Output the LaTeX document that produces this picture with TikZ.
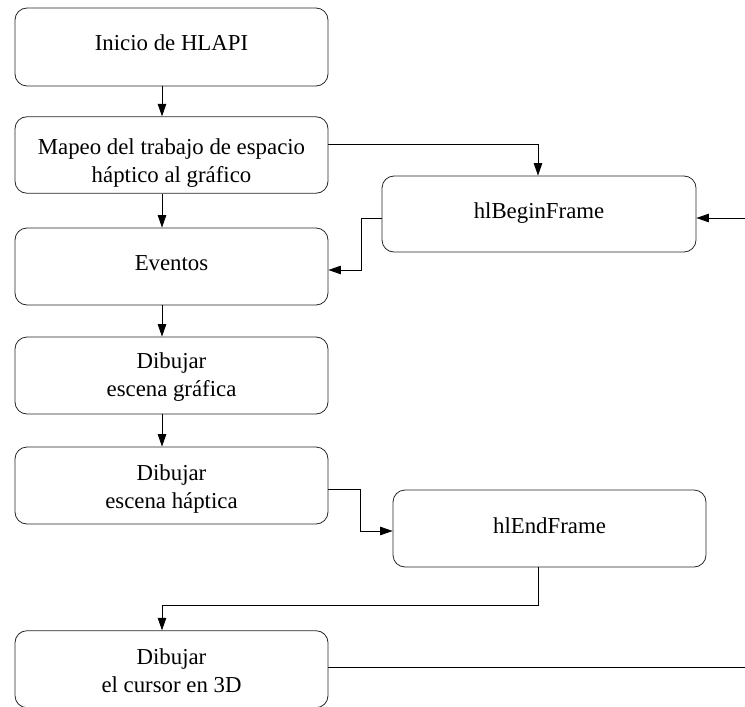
\documentclass[tikz,border=0pt]{standalone}
\usepackage{fontspec}
\setmainfont{Liberation Serif}
\usetikzlibrary{arrows.meta,calc}

\begin{document}
\begin{tikzpicture}[x=1bp,y=-1bp,
  box/.style={draw=black!85, line width=0.8bp, rounded corners=12bp,
    minimum width=313bp, minimum height=77bp, inner sep=0pt,
    align=center, font=\fontsize{22.8bp}{28bp}\selectfont},
  % baseline of the (last) text line sits #1/2 below the box centre
  bl/.style={text height=#1, text depth=0bp},
  flow/.style={draw=black, line width=0.8bp,
    -{Triangle[length=12.5bp,width=8.5bp]}},
  plain/.style={draw=black, line width=0.8bp}]
\useasboundingbox (0,0) rectangle (745,707);

% main column
\node[box, bl=8bp, minimum height=78bp] (b1) at (171.5,47) {Inicio de HLAPI};
\node[box, bl=54bp, minimum height=76.5bp] (b2) at (171.5,155) {Mapeo del trabajo de espacio\\háptico al gráfico};
\node[box, bl=7bp] (b3) at (171.5,266.5) {Eventos};
\node[box, bl=41bp] (b4) at (171.5,375.5) {Dibujar\\escena gráfica};
\node[box, bl=45bp] (b5) at (171.5,485.5) {Dibujar\\escena háptica};
\node[box, bl=47bp] (b6) at (171.5,669.2) {Dibujar\\el cursor en 3D};

% frame calls on the right
\node[box, bl=8bp, minimum width=314bp, minimum height=76bp] (hb) at (539,214) {hlBeginFrame};
\node[box, bl=9bp] (he) at (549.5,528.5) {hlEndFrame};

% helper coordinates
\coordinate (ax) at (162,0);
\coordinate (edgeA) at (745,218);
\coordinate (edgeB) at (745,667);

% vertical flow in the column
\draw[flow] (b1.south -| ax) -- (b2.north -| ax);
\draw[flow] (b2.south -| ax) -- (b3.north -| ax);
\draw[flow] (b3.south -| ax) -- (b4.north -| ax);
\draw[flow] (b4.south -| ax) -- (b5.north -| ax);

% begin frame loop
\draw[flow] (b2.east |- 0,144) -| (538,0 |- hb.north);
\draw[flow] (hb.west |- 0,218) -- (361,218) -- (361,270) -- (b3.east |- 0,270);
\draw[flow] (edgeA) -- (hb.east |- edgeA);

% end frame
\draw[flow] (b5.east |- 0,489) -- (360,489) -- (360,531) -- (he.west |- 0,531);
\draw[flow] (538,0 |- he.south) -- (538,605) -- (162,605) -- (b6.north -| ax);
\draw[plain] (b6.east |- edgeB) -- (edgeB);
\end{tikzpicture}
\end{document}
